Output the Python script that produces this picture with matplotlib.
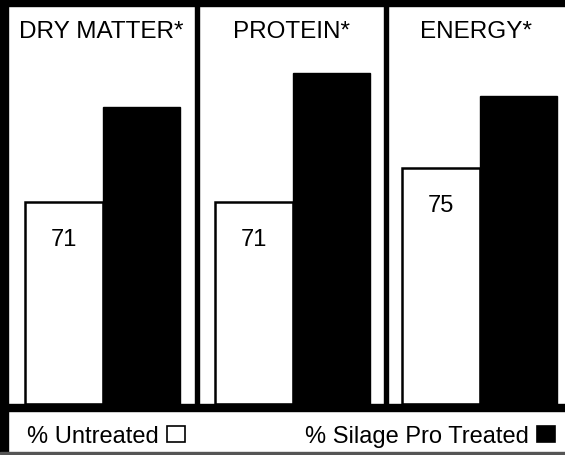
"""
Silage Pro: nutrient recovery, untreated vs treated (three panels).
Output: out.png
"""

import matplotlib
matplotlib.use("Agg")
import matplotlib.pyplot as plt
from matplotlib.patches import Rectangle, Patch

plt.rcParams["font.family"] = ["Liberation Sans", "DejaVu Sans"]

OUT_FIG = "out.png"

# --- Data ---
panels = ["DRY MATTER*", "PROTEIN*", "ENERGY*"]
untreated = [71, 71, 75]
treated = [82.1, 86.1, 83.4]
legend_labels = ["% Untreated", "% Silage Pro Treated"]

# --- Layout in pixels of the 565x456 canvas ---
W, H = 565, 456
Y_TOP, Y_BASE = 7, 405          # plot area top / bar baseline
PX_PER_UNIT = 77.5              # horizontal scale shared by all panels
# (axes left, axes right, left edge of first bar)
PANEL_PX = [(8, 195, 25), (199, 384, 215), (388, 565, 402)]
Y_MIN, Y_MAX = 47.2, 94.0


def fx(px):
    return px / W


def fy(py):
    return 1 - py / H


def main():
    fig = plt.figure(figsize=(W / 100, H / 100), dpi=100)
    fig.patch.set_facecolor("white")

    for i, (l, r, b0) in enumerate(PANEL_PX):
        ax = fig.add_axes([fx(l), fy(Y_BASE), fx(r - l), fy(Y_TOP) - fy(Y_BASE)])
        ax.set_xlim(-(b0 - l) / PX_PER_UNIT, (r - b0) / PX_PER_UNIT)
        ax.set_ylim(Y_MIN, Y_MAX)
        ax.axis("off")

        ax.bar(0, untreated[i] - Y_MIN, bottom=Y_MIN, width=1, align="edge",
               color="white", edgecolor="black", linewidth=1.8, zorder=2)
        ax.bar(1, treated[i] - Y_MIN, bottom=Y_MIN, width=1, align="edge",
               color="black", edgecolor="black", linewidth=1, zorder=3)

        ax.annotate(f"{untreated[i]}", xy=(0.5, untreated[i]), xytext=(0, -27),
                    textcoords="offset points", ha="center", va="center",
                    fontsize=17, color="black")
        ax.text(0.5, 0.937, panels[i], transform=ax.transAxes,
                ha="center", va="center", fontsize=17.5, color="black")

    # frame: top band, left border, dividers, baseline band, bottom rule
    def band(x0, y0, x1, y1, color="black"):
        fig.patches.append(Rectangle((fx(x0), fy(y1)), fx(x1 - x0), fy(y0) - fy(y1),
                                     transform=fig.transFigure, color=color,
                                     zorder=5))

    band(0, 0, W, Y_TOP)
    band(0, 0, 8, 453)
    band(195, 0, 199, Y_BASE)
    band(384, 0, 388, Y_BASE)
    band(0, Y_BASE, W, 412)
    band(0, 453, W, 455, color="#555555")

    # legend (label first, then swatch)
    h_un = Patch(facecolor="white", edgecolor="black", linewidth=1.2)
    h_tr = Patch(facecolor="black", edgecolor="black", linewidth=1.2)
    kw = dict(frameon=False, markerfirst=False, fontsize=17, handlelength=0.75,
              handleheight=0.65, handletextpad=0.35, borderpad=0, borderaxespad=0)
    fig.legend([h_un], [legend_labels[0]], loc="center left",
               bbox_to_anchor=(fx(27), fy(437)), **kw)
    fig.legend([h_tr], [legend_labels[1]], loc="center right",
               bbox_to_anchor=(fx(555), fy(437)), **kw)

    fig.savefig(OUT_FIG, dpi=100)


if __name__ == "__main__":
    main()
